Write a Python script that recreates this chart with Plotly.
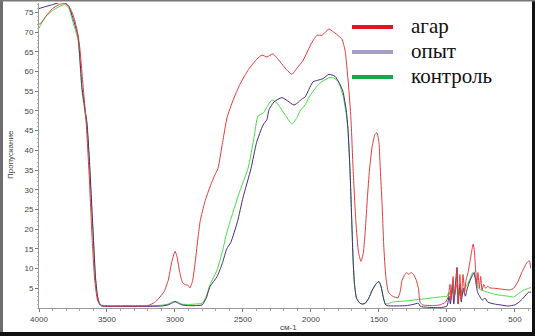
import plotly.graph_objects as go

# ---- data (wavenumber, cm-1 ; transmittance, %) ----
agar_wn = [4000, 3980, 3950, 3900, 3850, 3810, 3780, 3750, 3720, 3700, 3680, 3655, 3630, 3610, 3590, 3570, 3550,
           3500, 3400, 3300, 3200, 3150, 3110, 3080, 3050, 3025, 3000, 2985, 2965, 2945, 2925, 2905, 2890, 2870,
           2850, 2830, 2815, 2780, 2740, 2710, 2684, 2650, 2618, 2570, 2522, 2460, 2397, 2360, 2324, 2280, 2228,
           2180, 2140, 2100, 2059, 2020, 1993, 1956, 1919, 1895, 1868, 1840, 1809, 1772, 1750, 1743, 1725, 1706,
           1690, 1670, 1650, 1632, 1615, 1600, 1585, 1570, 1550, 1530, 1515, 1500, 1490, 1478, 1465, 1450, 1430,
           1400, 1360, 1345, 1330, 1310, 1295, 1280, 1265, 1245, 1225, 1210, 1198, 1180, 1100, 1050, 1010, 990,
           978, 970, 955, 945, 935, 926, 918, 905, 895, 882, 870, 860, 845, 830, 815, 808, 800, 790, 780, 772,
           762, 752, 742, 730, 715, 700, 684, 650, 600, 537, 510, 478, 450, 412, 395, 382]
agar_t = [72, 72.5, 74, 76, 77, 77.3, 76.5, 74.5, 70.5, 66, 58, 48, 33, 18, 7, 2, 0.8,
          0.5, 0.5, 0.5, 0.6, 1.4, 2.8, 4.2, 7, 11.5, 14.4, 13, 9, 6.5, 5.9, 5.8, 5.1, 7,
          12, 18, 22, 27, 31, 33.5, 35.4, 42, 48.2, 53, 56.8, 60.5, 63.2, 64.2, 63.7, 64.5, 62.5,
          60.5, 59.3, 61, 62.8, 65.5, 67.4, 69.2, 69.2, 70, 70.8, 70.2, 69.4, 68.2, 65.5, 63.6, 57, 48,
          35, 22, 14, 11.8, 14, 20, 28, 35, 41, 44, 44.5, 42, 35, 27, 16, 8, 4,
          3, 2.6, 4, 7, 8.5, 9, 8.5, 9, 8.5, 7, 5, 1.5, 0.8, 0.6, 0.8, 1.5, 3,
          6, 2, 8, 3, 5, 10, 1, 8.5, 2, 8.5, 4, 7, 9, 12, 15, 16.2, 15, 10, 6, 9,
          5, 8, 4.5, 6, 5, 5.5, 5.1, 5, 4.8, 4.6, 5, 6.7, 9, 11.5, 12, 10]

opyt_wn = [4000, 3970, 3950, 3900, 3850, 3810, 3780, 3750, 3713, 3684, 3660, 3647, 3630, 3615, 3600, 3585, 3570,
           3555, 3540, 3400, 3200, 3100, 3050, 3020, 3000, 2980, 2950, 2900, 2850, 2800, 2770, 2743, 2690, 2650,
           2620, 2590, 2540, 2500, 2441, 2400, 2353, 2324, 2309, 2272, 2213, 2170, 2125, 2090, 2066, 2044, 2015,
           1985, 1950, 1912, 1868, 1824, 1790, 1765, 1740, 1728, 1713, 1700, 1690, 1680, 1665, 1640, 1620, 1600,
           1575, 1550, 1520, 1500, 1485, 1470, 1455, 1440, 1300, 1250, 1210, 1195, 1150, 1050, 1000, 985, 975,
           960, 950, 940, 926, 918, 905, 895, 880, 865, 850, 830, 810, 800, 790, 775, 760, 740, 720, 700, 650,
           610, 550, 500, 470, 440, 400, 382]
opyt_t = [76, 76.3, 76.5, 77, 77.5, 77.5, 76.5, 73.5, 69, 56, 50, 47, 38, 28, 18, 8, 3,
          1, 0.5, 0.4, 0.4, 0.5, 0.8, 1.3, 1.6, 1.3, 0.8, 0.6, 0.6, 0.8, 2.5, 5.4, 8, 11.5,
          15, 16.6, 22, 28, 35.4, 42, 46.4, 47.8, 50.3, 52.3, 53.4, 52.5, 51.5, 52.3, 53.1, 53.5, 55.5,
          57.4, 57.8, 58.2, 59.3, 58.8, 57, 55, 50, 45.6, 35, 22, 12, 6, 2.5, 1.2, 1, 1.2,
          2.5, 4.5, 6.2, 6.7, 5.5, 3, 1, 0.6, 0.6, 0.9, 1.2, 0.4, 0.2, 0.1, 0.5, 3, 1,
          6, 1, 5, 10.3, 1, 6, 1.5, 5, 3, 5, 7, 8.5, 9, 7, 4, 3, 2, 2.5, 1.5, 1,
          0.8, 0.5, 0.8, 1.5, 2.5, 4, 4]

kontrol_wn = [4000, 3970, 3950, 3900, 3850, 3810, 3780, 3750, 3713, 3684, 3660, 3647, 3630, 3615, 3600, 3585, 3570,
              3555, 3540, 3400, 3200, 3100, 3050, 3020, 3000, 2980, 2950, 2900, 2850, 2800, 2770, 2743, 2690, 2650,
              2620, 2590, 2520, 2463, 2420, 2390, 2350, 2324, 2287, 2250, 2200, 2140, 2100, 2081, 2044, 2015, 1985,
              1950, 1919, 1860, 1830, 1801, 1765, 1740, 1728, 1713, 1700, 1690, 1680, 1665, 1640, 1620, 1600, 1575,
              1550, 1520, 1500, 1485, 1470, 1455, 1440, 1400, 1300, 1200, 1100, 1050, 1000, 985, 970, 955, 945,
              935, 926, 915, 900, 885, 870, 850, 830, 810, 800, 785, 770, 750, 700, 650, 600, 550, 510, 480, 440,
              400, 382]
kontrol_t = [71, 73, 74, 75.5, 76.5, 77, 76, 72.5, 68, 55, 49, 46, 37, 27, 17, 7.5, 3,
             1.2, 0.7, 0.6, 0.6, 0.7, 1, 1.5, 1.7, 1.5, 1, 0.9, 1, 1.2, 3, 5.9, 9.7, 14.5,
             19, 22.5, 30, 35.4, 43, 48.7, 49.5, 51, 52.8, 52, 49.5, 46.7, 48.5, 50, 51.5, 53.5, 55,
             56.5, 57.5, 58.5, 58.3, 57.5, 54, 49, 45, 35, 22, 12, 6, 2.5, 1.2, 1, 1.3, 2.5,
             4.5, 6.2, 6.7, 5.5, 3, 1.2, 1, 1.5, 1.8, 2.2, 2.6, 2.8, 3, 4, 2.5, 6, 3,
             5, 6, 3, 5, 3.5, 5, 6, 7.5, 9, 8.5, 7, 5, 4.6, 4, 3.5, 3.2, 3, 2.8, 3.5, 4.5,
             5, 5.2]

series_names = ["агар", "опыт", "контроль"]
line_colors = ["#e53b3b", "#4a2a7c", "#45dc45"]
legend_colors = ["#e8141c", "#a89cc8", "#17a84a"]

x_ticks = [4000, 3500, 3000, 2500, 2000, 1500, 1000, 500]
y_ticks = [5, 10, 15, 20, 25, 30, 35, 40, 45, 50, 55, 60, 65, 70, 75]

# ---- figure ----
W, H = 535, 336
L, R, T, B = 39, 4, 3, 28
pw, ph = W - L - R, H - T - B


def px_x(p):
    return (p - L) / pw


def px_y(p):
    return (H - B - p) / ph


fig = go.Figure()
data = [(agar_wn, agar_t), (opyt_wn, opyt_t), (kontrol_wn, kontrol_t)]
for i in [2, 1, 0]:
    wn, t = data[i]
    fig.add_trace(go.Scatter(x=wn, y=t, mode="lines", name=series_names[i],
                             line=dict(color=line_colors[i], width=1, shape="spline", smoothing=0.5),
                             showlegend=False, hoverinfo="skip"))

shapes = []
annotations = []
# custom legend
for i, name in enumerate(series_names):
    yc = [27, 52, 77][i]
    shapes.append(dict(type="line", xref="paper", yref="paper",
                       x0=px_x(352), x1=px_x(393), y0=px_y(yc), y1=px_y(yc),
                       line=dict(color=legend_colors[i], width=4)))
    annotations.append(dict(text=name, xref="paper", yref="paper", x=px_x(409), y=px_y(yc - 1),
                            xanchor="left", yanchor="middle", showarrow=False,
                            font=dict(family="Liberation Serif", size=21, color="#111")))

# window frame
shapes += [
    dict(type="rect", xref="paper", yref="paper", x0=px_x(0), x1=px_x(3), y0=px_y(336), y1=px_y(0),
         fillcolor="#6e6e6e", line=dict(width=0), layer="above"),
    dict(type="rect", xref="paper", yref="paper", x0=px_x(0), x1=px_x(535), y0=px_y(336), y1=px_y(332),
         fillcolor="#111111", line=dict(width=0), layer="above"),
    dict(type="rect", xref="paper", yref="paper", x0=px_x(532), x1=px_x(535), y0=px_y(336), y1=px_y(0),
         fillcolor="#111111", line=dict(width=0), layer="above"),
    dict(type="rect", xref="paper", yref="paper", x0=px_x(0), x1=px_x(535), y0=px_y(1.5), y1=px_y(0),
         fillcolor="#7a7a7a", line=dict(width=0), layer="above"),
]

annotations.append(dict(text="Пропускание", xref="paper", yref="paper", x=px_x(10), y=px_y(155),
                        textangle=-90, showarrow=False, xanchor="center", yanchor="middle",
                        font=dict(family="Liberation Sans", size=8, color="#444")))
annotations.append(dict(text="см-1", xref="paper", yref="paper", x=px_x(288), y=px_y(327),
                        showarrow=False, xanchor="center", yanchor="middle",
                        font=dict(family="Liberation Sans", size=8, color="#444")))

fig.update_layout(
    width=W, height=H,
    margin=dict(l=L, r=R, t=T, b=B),
    paper_bgcolor="white", plot_bgcolor="white",
    shapes=shapes, annotations=annotations,
    showlegend=False,
    xaxis=dict(range=[4000, 382], tickvals=x_ticks, ticktext=[str(v) for v in x_ticks],
               showgrid=False, zeroline=False, showline=True, linecolor="#9a9a9a", linewidth=1,
               ticks="outside", ticklen=3, tickcolor="#777",
               minor=dict(dtick=100, ticks="outside", ticklen=2, tickcolor="#aaa"),
               tickfont=dict(family="Liberation Sans", size=8, color="#444")),
    yaxis=dict(range=[0, 77.4], tickvals=y_ticks, ticktext=[str(v) for v in y_ticks],
               showgrid=False, zeroline=False, showline=True, linecolor="#9a9a9a", linewidth=1,
               ticks="outside", ticklen=3, tickcolor="#777",
               minor=dict(dtick=1, ticks="outside", ticklen=1, tickcolor="#bbb"),
               tickfont=dict(family="Liberation Sans", size=8, color="#444")),
)

fig.write_html("out.html", config={"displayModeBar": False},
               post_script="document.body.style.margin='0';document.body.style.padding='0';"
                           "document.body.style.overflow='hidden';")
